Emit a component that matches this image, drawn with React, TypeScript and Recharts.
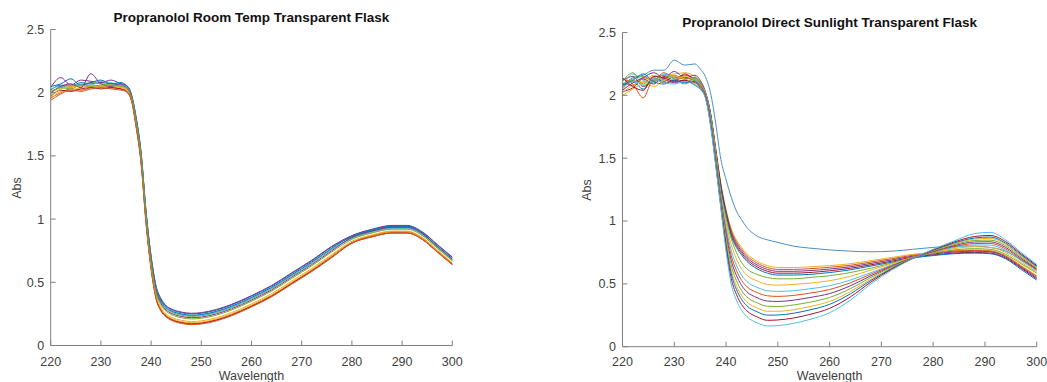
import { LineChart, Line, XAxis, YAxis } from 'recharts'

const W = 1047
const H = 382

// wavelength grid (nm), shared by both panels
const WAVELENGTH = [220, 222, 224, 226, 228, 230, 232, 234, 235, 236, 237, 238, 239, 240, 241, 242, 243, 244, 246, 248, 250, 253, 256, 260, 264, 268, 272, 276, 280, 284, 288, 291, 294, 297, 300]

const X_TICKS = [220, 230, 240, 250, 260, 270, 280, 290, 300]
const Y_TICKS = [0, 0.5, 1, 1.5, 2, 2.5]

// Room temperature scans
const ROOM_01 = [2.02, 2.06, 2.05, 2.08, 2.07, 2.08, 2.07, 2.06, 2.05, 1.99, 1.80, 1.52, 1.05, 0.70, 0.46, 0.36, 0.31, 0.285, 0.26, 0.25, 0.255, 0.28, 0.32, 0.39, 0.47, 0.57, 0.67, 0.78, 0.86, 0.91, 0.94, 0.94, 0.89, 0.78, 0.68]
const ROOM_02 = [1.96, 2.00, 2.03, 2.02, 2.04, 2.05, 2.04, 2.03, 2.02, 1.96, 1.75, 1.46, 0.98, 0.62, 0.38, 0.28, 0.235, 0.21, 0.185, 0.175, 0.18, 0.205, 0.245, 0.315, 0.395, 0.495, 0.595, 0.71, 0.815, 0.87, 0.90, 0.90, 0.85, 0.75, 0.65]
const ROOM_03 = [1.95, 2.01, 2.02, 2.04, 2.05, 2.04, 2.05, 2.04, 2.03, 1.97, 1.77, 1.48, 1.00, 0.63, 0.39, 0.29, 0.24, 0.215, 0.19, 0.18, 0.185, 0.21, 0.25, 0.32, 0.40, 0.50, 0.60, 0.71, 0.81, 0.865, 0.895, 0.895, 0.845, 0.745, 0.645]
const ROOM_04 = [2.04, 2.12, 2.06, 2.10, 2.09, 2.08, 2.10, 2.07, 2.06, 2.00, 1.81, 1.53, 1.06, 0.71, 0.47, 0.37, 0.315, 0.29, 0.265, 0.255, 0.26, 0.285, 0.325, 0.395, 0.475, 0.575, 0.675, 0.785, 0.87, 0.92, 0.95, 0.95, 0.90, 0.80, 0.70]
const ROOM_05 = [2.01, 2.04, 2.06, 2.06, 2.08, 2.07, 2.06, 2.05, 2.04, 1.98, 1.79, 1.51, 1.03, 0.68, 0.44, 0.34, 0.29, 0.265, 0.24, 0.23, 0.235, 0.26, 0.30, 0.37, 0.45, 0.55, 0.65, 0.76, 0.85, 0.90, 0.93, 0.93, 0.88, 0.78, 0.68]
const ROOM_06 = [2.03, 2.05, 2.04, 2.07, 2.06, 2.09, 2.08, 2.06, 2.05, 1.99, 1.80, 1.52, 1.04, 0.69, 0.45, 0.345, 0.295, 0.27, 0.245, 0.235, 0.24, 0.265, 0.305, 0.375, 0.455, 0.555, 0.655, 0.765, 0.845, 0.895, 0.925, 0.925, 0.875, 0.775, 0.675]
const ROOM_07 = [1.97, 2.02, 2.01, 2.03, 2.04, 2.03, 2.04, 2.03, 2.01, 1.95, 1.74, 1.45, 0.97, 0.61, 0.37, 0.275, 0.23, 0.205, 0.18, 0.17, 0.175, 0.20, 0.24, 0.31, 0.39, 0.49, 0.59, 0.70, 0.81, 0.86, 0.89, 0.89, 0.84, 0.74, 0.64]
const ROOM_08 = [2.05, 2.07, 2.11, 2.06, 2.08, 2.10, 2.07, 2.08, 2.06, 1.99, 1.80, 1.52, 1.05, 0.69, 0.45, 0.35, 0.30, 0.275, 0.25, 0.24, 0.245, 0.27, 0.31, 0.38, 0.46, 0.56, 0.66, 0.77, 0.865, 0.915, 0.945, 0.945, 0.895, 0.795, 0.695]
const ROOM_09 = [1.94, 1.99, 2.02, 2.01, 2.03, 2.04, 2.03, 2.02, 2.01, 1.95, 1.73, 1.44, 0.96, 0.60, 0.37, 0.27, 0.225, 0.20, 0.175, 0.165, 0.17, 0.195, 0.235, 0.305, 0.385, 0.485, 0.585, 0.695, 0.81, 0.86, 0.89, 0.89, 0.84, 0.74, 0.64]
const ROOM_10 = [1.98, 2.03, 2.05, 2.05, 2.06, 2.05, 2.06, 2.04, 2.03, 1.97, 1.77, 1.49, 1.01, 0.64, 0.40, 0.30, 0.25, 0.225, 0.20, 0.19, 0.195, 0.22, 0.26, 0.33, 0.41, 0.51, 0.61, 0.72, 0.825, 0.875, 0.905, 0.905, 0.855, 0.755, 0.655]
const ROOM_11 = [2.00, 2.05, 2.07, 2.04, 2.15, 2.07, 2.05, 2.07, 2.04, 1.98, 1.78, 1.50, 1.02, 0.67, 0.43, 0.33, 0.28, 0.255, 0.23, 0.22, 0.225, 0.25, 0.29, 0.36, 0.44, 0.54, 0.64, 0.75, 0.855, 0.905, 0.935, 0.935, 0.885, 0.785, 0.685]
const ROOM_12 = [1.99, 2.04, 2.03, 2.06, 2.05, 2.06, 2.06, 2.05, 2.04, 1.98, 1.78, 1.50, 1.02, 0.66, 0.42, 0.32, 0.27, 0.245, 0.22, 0.21, 0.215, 0.24, 0.28, 0.35, 0.43, 0.53, 0.63, 0.74, 0.84, 0.89, 0.92, 0.92, 0.87, 0.77, 0.67]

// Direct sunlight scans
const SUN_00 = [2.08, 2.14, 2.16, 2.20, 2.20, 2.28, 2.24, 2.25, 2.21, 2.15, 2.02, 1.78, 1.49, 1.33, 1.19, 1.08, 1.01, 0.95, 0.88, 0.85, 0.83, 0.80, 0.785, 0.77, 0.76, 0.755, 0.76, 0.775, 0.79, 0.80, 0.80, 0.79, 0.76, 0.69, 0.62]
const SUN_01 = [2.05, 2.12, 2.10, 2.15, 2.16, 2.17, 2.18, 2.15, 2.11, 2.03, 1.86, 1.58, 1.30, 1.09, 0.94, 0.85, 0.79, 0.74, 0.68, 0.645, 0.63, 0.63, 0.635, 0.645, 0.66, 0.685, 0.71, 0.735, 0.75, 0.765, 0.77, 0.765, 0.725, 0.645, 0.565]
const SUN_02 = [2.10, 2.08, 2.14, 2.12, 2.18, 2.14, 2.16, 2.13, 2.10, 2.02, 1.85, 1.57, 1.29, 1.08, 0.925, 0.835, 0.775, 0.725, 0.665, 0.63, 0.615, 0.615, 0.62, 0.632, 0.648, 0.674, 0.70, 0.727, 0.744, 0.76, 0.765, 0.76, 0.72, 0.64, 0.56]
const SUN_03 = [2.12, 2.15, 2.07, 2.11, 2.13, 2.19, 2.14, 2.16, 2.12, 2.03, 1.86, 1.57, 1.28, 1.07, 0.91, 0.82, 0.76, 0.71, 0.65, 0.615, 0.60, 0.60, 0.605, 0.618, 0.636, 0.663, 0.69, 0.72, 0.738, 0.753, 0.76, 0.755, 0.714, 0.632, 0.55]
const SUN_04 = [2.03, 2.06, 2.13, 2.09, 2.15, 2.12, 2.17, 2.12, 2.09, 2.01, 1.84, 1.56, 1.27, 1.06, 0.895, 0.805, 0.745, 0.695, 0.635, 0.60, 0.585, 0.585, 0.59, 0.604, 0.624, 0.652, 0.68, 0.712, 0.73, 0.745, 0.75, 0.745, 0.705, 0.625, 0.54]
const SUN_05 = [2.07, 2.11, 2.05, 2.14, 2.11, 2.15, 2.13, 2.14, 2.10, 2.02, 1.85, 1.55, 1.26, 1.05, 0.88, 0.79, 0.73, 0.68, 0.62, 0.585, 0.57, 0.57, 0.575, 0.59, 0.612, 0.642, 0.672, 0.705, 0.725, 0.74, 0.745, 0.74, 0.70, 0.615, 0.53]
const SUN_06 = [2.09, 2.13, 2.15, 2.12, 2.14, 2.16, 2.13, 2.14, 2.10, 2.02, 1.84, 1.55, 1.22, 1.02, 0.86, 0.75, 0.67, 0.62, 0.575, 0.55, 0.54, 0.54, 0.55, 0.565, 0.59, 0.625, 0.665, 0.71, 0.745, 0.77, 0.78, 0.775, 0.735, 0.66, 0.585]
const SUN_07 = [2.00, 2.05, 2.10, 2.16, 2.12, 2.13, 2.15, 2.12, 2.09, 2.015, 1.83, 1.535, 1.204, 0.985, 0.812, 0.699, 0.619, 0.569, 0.524, 0.495, 0.49, 0.495, 0.505, 0.525, 0.56, 0.61, 0.66, 0.71, 0.75, 0.78, 0.795, 0.79, 0.75, 0.67, 0.595]
const SUN_08 = [2.06, 2.17, 2.12, 2.10, 2.17, 2.14, 2.11, 2.13, 2.08, 2.01, 1.82, 1.52, 1.19, 0.95, 0.764, 0.649, 0.569, 0.519, 0.472, 0.445, 0.44, 0.445, 0.46, 0.485, 0.53, 0.59, 0.65, 0.707, 0.753, 0.789, 0.81, 0.808, 0.766, 0.684, 0.604]
const SUN_09 = [2.13, 2.09, 1.98, 2.13, 2.10, 2.12, 2.14, 2.11, 2.08, 2.005, 1.81, 1.51, 1.175, 0.923, 0.726, 0.608, 0.528, 0.478, 0.431, 0.405, 0.40, 0.408, 0.425, 0.455, 0.508, 0.578, 0.645, 0.706, 0.756, 0.796, 0.821, 0.822, 0.778, 0.694, 0.611]
const SUN_10 = [2.04, 2.10, 2.14, 2.18, 2.13, 2.10, 2.12, 2.10, 2.07, 2.00, 1.80, 1.497, 1.162, 0.895, 0.687, 0.568, 0.488, 0.438, 0.39, 0.363, 0.36, 0.37, 0.39, 0.423, 0.484, 0.565, 0.639, 0.705, 0.759, 0.804, 0.833, 0.835, 0.79, 0.703, 0.619]
const SUN_11 = [2.11, 2.18, 2.08, 2.12, 2.16, 2.13, 2.09, 2.12, 2.07, 1.995, 1.795, 1.485, 1.15, 0.867, 0.649, 0.527, 0.447, 0.397, 0.349, 0.322, 0.32, 0.332, 0.353, 0.392, 0.461, 0.552, 0.633, 0.704, 0.763, 0.811, 0.845, 0.848, 0.803, 0.713, 0.626]
const SUN_12 = [2.02, 2.08, 2.11, 2.07, 2.12, 2.15, 2.13, 2.09, 2.06, 1.99, 1.785, 1.474, 1.137, 0.84, 0.611, 0.487, 0.407, 0.357, 0.308, 0.282, 0.282, 0.294, 0.318, 0.36, 0.438, 0.538, 0.627, 0.703, 0.766, 0.818, 0.856, 0.862, 0.815, 0.722, 0.634]
const SUN_13 = [2.08, 2.12, 2.17, 2.11, 2.09, 2.12, 2.10, 2.11, 2.06, 1.99, 1.78, 1.465, 1.127, 0.819, 0.582, 0.456, 0.376, 0.326, 0.278, 0.251, 0.252, 0.266, 0.291, 0.337, 0.42, 0.528, 0.622, 0.702, 0.768, 0.824, 0.865, 0.872, 0.824, 0.73, 0.639]
const SUN_14 = [2.14, 2.07, 2.04, 2.15, 2.14, 2.11, 2.12, 2.08, 2.05, 1.985, 1.77, 1.453, 1.114, 0.791, 0.543, 0.416, 0.336, 0.286, 0.237, 0.21, 0.213, 0.228, 0.255, 0.305, 0.396, 0.515, 0.617, 0.701, 0.771, 0.832, 0.877, 0.885, 0.836, 0.739, 0.647]
const SUN_15 = [2.05, 2.11, 2.09, 2.13, 2.10, 2.09, 2.11, 2.08, 2.05, 1.98, 1.76, 1.44, 1.10, 0.76, 0.50, 0.37, 0.29, 0.24, 0.19, 0.165, 0.168, 0.185, 0.215, 0.27, 0.37, 0.50, 0.61, 0.70, 0.775, 0.84, 0.90, 0.91, 0.85, 0.75, 0.655]

const ROOM_SERIES = [ROOM_01, ROOM_02, ROOM_03, ROOM_04, ROOM_05, ROOM_06, ROOM_07, ROOM_08, ROOM_09, ROOM_10, ROOM_11, ROOM_12]
const SUN_SERIES = [SUN_00, SUN_01, SUN_02, SUN_03, SUN_04, SUN_05, SUN_06, SUN_07, SUN_08, SUN_09, SUN_10, SUN_11, SUN_12, SUN_13, SUN_14, SUN_15]

const ROOM_COLORS = ['#0072BD', '#D95319', '#EDB120', '#7E2F8E', '#77AC30', '#4DBEEE', '#A2142F', '#0072BD', '#D95319', '#EDB120', '#7E2F8E', '#77AC30']
const SUN_COLORS = ['#4a8fc4', '#EDB120', '#D95319', '#7E2F8E', '#A2142F', '#0072BD', '#77AC30', '#EDB120', '#4DBEEE', '#D95319', '#7E2F8E', '#77AC30', '#EDB120', '#0072BD', '#A2142F', '#4DBEEE']

const AXIS_GREY = '#808080'
const TEXT_GREY = '#404040'
const FONT = '"Liberation Sans", Arial, Helvetica, sans-serif'

function buildRows(series: number[][]) {
  return WAVELENGTH.map((wl, i) => {
    const row: Record<string, number> = { wl }
    series.forEach((s, k) => {
      row['s' + k] = s[i]
    })
    return row
  })
}

interface Box {
  left: number
  top: number
  right: number
  bottom: number
}

interface PanelProps {
  x: number
  width: number
  plot: Box
  title: string
  titleY: number
  series: number[][]
  colors: string[]
}

function SpectraPanel({ x, width, plot, title, titleY, series, colors }: PanelProps) {
  const rows = buildRows(series)
  const yAxisWidth = plot.left - x
  const xAxisHeight = H - plot.bottom
  const plotW = plot.right - plot.left
  const tickStyle = { fontSize: 12.5, fill: TEXT_GREY, fontFamily: FONT }

  return (
    <div style={{ position: 'absolute', left: x, top: 0, width, height: H }}>
      <LineChart
        width={width}
        height={H}
        data={rows}
        margin={{ top: plot.top, right: x + width - plot.right, bottom: 0, left: 0 }}
      >
        <XAxis
          xAxisId="b"
          dataKey="wl"
          type="number"
          domain={[220, 300]}
          ticks={X_TICKS}
          height={xAxisHeight}
          stroke={AXIS_GREY}
          tickSize={-5}
          tickMargin={plot.bottom > 346 ? 15.5 : 16.5}
          tick={tickStyle}
        />
        <XAxis
          xAxisId="t"
          orientation="top"
          dataKey="wl"
          type="number"
          domain={[220, 300]}
          ticks={X_TICKS}
          height={0}
          stroke={AXIS_GREY}
          tickSize={-5}
          tick={false}
        />
        <YAxis
          yAxisId="l"
          type="number"
          domain={[0, 2.5]}
          ticks={Y_TICKS}
          width={yAxisWidth}
          stroke={AXIS_GREY}
          tickSize={-5}
          tickMargin={11.5}
          tick={tickStyle}
        />
        <YAxis
          yAxisId="r"
          orientation="right"
          type="number"
          domain={[0, 2.5]}
          ticks={Y_TICKS}
          width={0}
          stroke={AXIS_GREY}
          tickSize={-5}
          tick={false}
        />
        {series.map((_, k) => (
          <Line
            key={k}
            xAxisId="b"
            yAxisId="l"
            dataKey={'s' + k}
            type="monotone"
            stroke={colors[k]}
            strokeWidth={1}
            dot={false}
            activeDot={false}
            isAnimationActive={false}
          />
        ))}
      </LineChart>

      <div
        style={{
          position: 'absolute',
          left: plot.left - x - 40,
          width: plotW + 80,
          top: titleY - 8,
          height: 16,
          lineHeight: '16px',
          textAlign: 'center',
          fontFamily: FONT,
          fontWeight: 'bold',
          fontSize: 13.5,
          color: '#111',
          whiteSpace: 'nowrap',
        }}
      >
        {title}
      </div>
      <div
        style={{
          position: 'absolute',
          left: plot.left - x,
          width: plotW,
          top: 369.5,
          height: 12,
          lineHeight: '12px',
          textAlign: 'center',
          fontFamily: FONT,
          fontSize: 12.5,
          color: TEXT_GREY,
        }}
      >
        Wavelength
      </div>
      <div
        style={{
          position: 'absolute',
          left: 16.5 - 20,
          top: (plot.top + plot.bottom) / 2 - 7,
          width: 40,
          height: 14,
          lineHeight: '14px',
          textAlign: 'center',
          fontFamily: FONT,
          fontSize: 12.5,
          color: TEXT_GREY,
          transform: 'rotate(-90deg)',
        }}
      >
        Abs
      </div>
    </div>
  )
}

export default function App() {
  return (
    <div style={{ position: 'absolute', left: 0, top: 0, width: W, height: H, background: '#fff', overflow: 'hidden' }}>
      <SpectraPanel
        x={0}
        width={470}
        plot={{ left: 50.7, top: 29.5, right: 452.3, bottom: 345.5 }}
        title="Propranolol Room Temp Transparent Flask"
        titleY={18.3}
        series={ROOM_SERIES}
        colors={ROOM_COLORS}
      />
      <SpectraPanel
        x={570}
        width={477}
        plot={{ left: 622.5, top: 32.5, right: 1036.7, bottom: 346.7 }}
        title="Propranolol Direct Sunlight Transparent Flask"
        titleY={22.7}
        series={SUN_SERIES}
        colors={SUN_COLORS}
      />
    </div>
  )
}
